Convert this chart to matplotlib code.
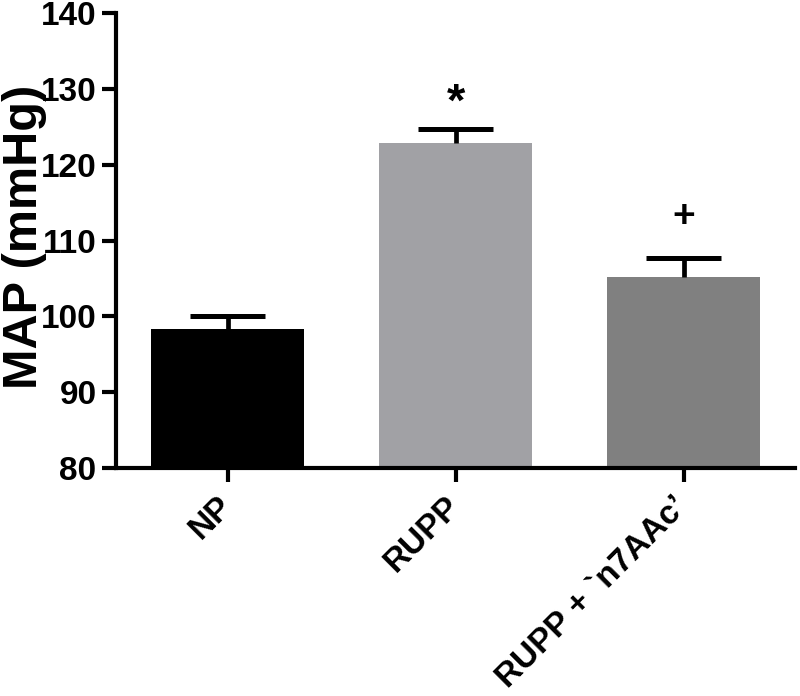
import matplotlib
matplotlib.use("Agg")
import matplotlib.pyplot as plt

categories = ["NP", "RUPP", "RUPP + `n7AAc’"]
means = [98.4, 122.9, 105.2]
sem = [1.7, 1.8, 2.5]
colors = ["#000000", "#a1a1a5", "#808080"]
annotations = ["", "*", "+"]
yticks = [80, 90, 100, 110, 120, 130, 140]

plt.rcParams['font.family'] = ['Liberation Sans', 'DejaVu Sans']

fig = plt.figure(figsize=(8, 6.96), dpi=100)
ax = fig.add_axes([0.145, 0.3276, 0.849, 0.6534])

x = list(range(len(categories)))
bar_w = 0.67
cap_half = 0.165
ax.bar(x, means, width=bar_w, color=colors, zorder=2)
tops = [m + s for m, s in zip(means, sem)]
ax.vlines(x, means, tops, color='black', linewidth=3.4, zorder=3)
ax.hlines(tops, [xi - cap_half for xi in x], [xi + cap_half for xi in x],
          color='black', linewidth=3.6, zorder=3)

for xi, t, a in zip(x, tops, annotations):
    if a == "*":
        ax.text(xi, t + 3.35, a, ha='center', va='center', fontsize=34,
                fontweight='bold')
    elif a == "+":
        ax.text(xi, t + 5.45, a, ha='center', va='center', fontsize=28,
                fontweight='bold')

ax.set_xlim(-0.49, 2.49)
ax.set_ylim(80, 140)
ax.set_yticks(yticks)
ax.set_xticks(x)
ax.set_xticklabels(categories, rotation=45, ha='right', va='center',
                   rotation_mode='anchor', fontsize=24, fontweight='bold')
for lab in ax.get_yticklabels():
    lab.set_fontsize(24)
    lab.set_fontweight('bold')

ax.spines['top'].set_visible(False)
ax.spines['right'].set_visible(False)
ax.spines['left'].set_linewidth(3)
ax.spines['bottom'].set_linewidth(3)
ax.tick_params(axis='both', width=3, length=10, color='black', pad=4)
ax.tick_params(axis='x', pad=14)

ax.set_ylabel("MAP (mmHg)", fontsize=35, fontweight='bold')
ax.yaxis.set_label_coords(-0.101, 0.508)

fig.savefig("out.png", dpi=100)
